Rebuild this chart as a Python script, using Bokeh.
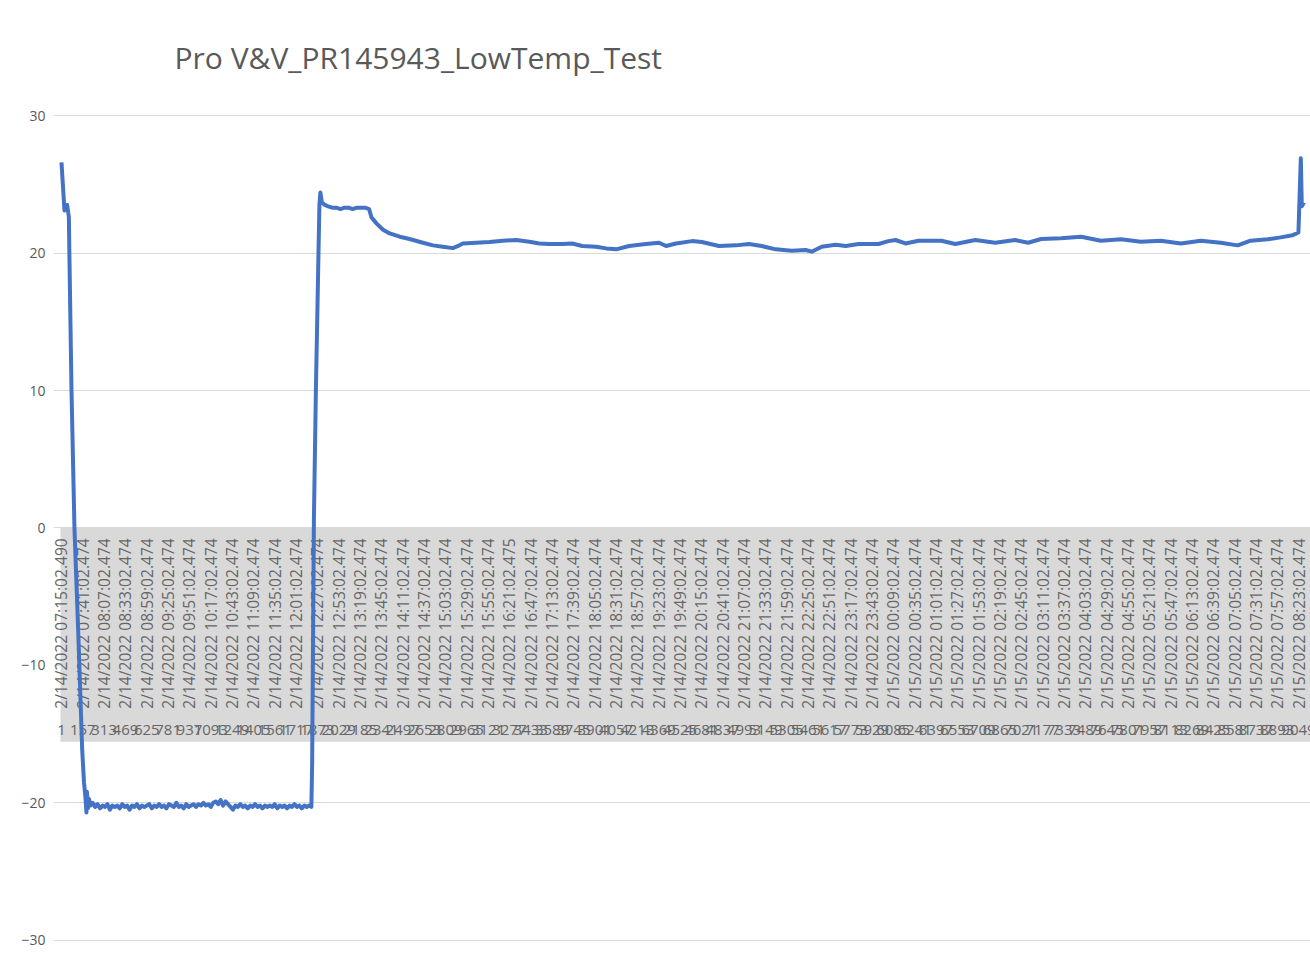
from datetime import datetime
from math import pi

from bokeh.plotting import figure
from bokeh.models import ColumnDataSource, BoxAnnotation, FixedTicker, Range1d
from bokeh.core.properties import value
from bokeh.embed import file_html
from bokeh.resources import INLINE

TITLE = "Pro V&V_PR145943_LowTemp_Test"

# category labels (time stamps) shown on the x axis
tick_labels = [
    "2/14/2022 07:15:02.490", "2/14/2022 07:41:02.474", "2/14/2022 08:07:02.474",
    "2/14/2022 08:33:02.474", "2/14/2022 08:59:02.474", "2/14/2022 09:25:02.474",
    "2/14/2022 09:51:02.474", "2/14/2022 10:17:02.474", "2/14/2022 10:43:02.474",
    "2/14/2022 11:09:02.474", "2/14/2022 11:35:02.474", "2/14/2022 12:01:02.474",
    "2/14/2022 12:27:02.474", "2/14/2022 12:53:02.474", "2/14/2022 13:19:02.474",
    "2/14/2022 13:45:02.474", "2/14/2022 14:11:02.474", "2/14/2022 14:37:02.474",
    "2/14/2022 15:03:02.474", "2/14/2022 15:29:02.474", "2/14/2022 15:55:02.474",
    "2/14/2022 16:21:02.475", "2/14/2022 16:47:02.474", "2/14/2022 17:13:02.474",
    "2/14/2022 17:39:02.474", "2/14/2022 18:05:02.474", "2/14/2022 18:31:02.474",
    "2/14/2022 18:57:02.474", "2/14/2022 19:23:02.474", "2/14/2022 19:49:02.474",
    "2/14/2022 20:15:02.474", "2/14/2022 20:41:02.474", "2/14/2022 21:07:02.474",
    "2/14/2022 21:33:02.474", "2/14/2022 21:59:02.474", "2/14/2022 22:25:02.474",
    "2/14/2022 22:51:02.474", "2/14/2022 23:17:02.474", "2/14/2022 23:43:02.474",
    "2/15/2022 00:09:02.474", "2/15/2022 00:35:02.474", "2/15/2022 01:01:02.474",
    "2/15/2022 01:27:02.474", "2/15/2022 01:53:02.474", "2/15/2022 02:19:02.474",
    "2/15/2022 02:45:02.474", "2/15/2022 03:11:02.474", "2/15/2022 03:37:02.474",
    "2/15/2022 04:03:02.474", "2/15/2022 04:29:02.474", "2/15/2022 04:55:02.474",
    "2/15/2022 05:21:02.474", "2/15/2022 05:47:02.474", "2/15/2022 06:13:02.474",
    "2/15/2022 06:39:02.474", "2/15/2022 07:05:02.474", "2/15/2022 07:31:02.474",
    "2/15/2022 07:57:02.474", "2/15/2022 08:23:02.474",
]

# second-level category labels (sample numbers, overlapping in the original)
index_labels = [
    "1", "157", "313", "469", "625", "781", "937", "1093", "1249", "1405",
    "1561", "1717", "1873", "2029", "2185", "2341", "2497", "2653", "2809", "2965",
    "3121", "3277", "3433", "3589", "3745", "3901", "4057", "4213", "4369", "4525",
    "4681", "4837", "4993", "5149", "5305", "5461", "5617", "5773", "5929", "6085",
    "6241", "6397", "6553", "6709", "6865", "7021", "7177", "7333", "7489", "7645",
    "7801", "7957", "8113", "8269", "8425", "8581", "8737", "8893", "9049",
]

# temperature readings (minutes since first sample, deg C)
start_min = [0, 3.6, 5.5, 6.9, 9.0, 9.6, 12.2, 15.8, 20.3, 25.2, 27.4, 29.2,
             30.4, 31.0, 32.2, 33.4, 35.3]
start_temp = [26.6, 23.1, 23.3, 23.5, 22.6, 20.0, 10.0, 0.0, -7.4, -16.1, -18.5,
              -19.6, -20.7, -19.2, -20.4, -19.7, -20.2]

cold_min = [38, 41, 44, 47, 50, 53, 56, 59, 62, 65, 68, 71, 74, 77, 80, 83, 86, 89,
            92, 95, 98, 101, 104, 107, 110, 113, 116, 119, 122, 125, 128, 131, 134,
            137, 140, 143, 146, 149, 152, 155, 158, 161, 164, 167, 170, 173, 176,
            179, 182, 185, 188, 191, 194, 197, 200, 203, 206, 209, 212, 215, 218,
            221, 224, 227, 230, 233, 236, 239, 242, 245, 248, 251, 254, 257, 260,
            263, 266, 269, 272, 275, 278, 281, 284, 287, 290, 293, 296, 299, 302]
cold_temp = [-20.0, -20.3, -20.1, -20.4, -20.2, -20.3, -20.1, -20.5, -20.2, -20.3,
             -20.2, -20.4, -20.1, -20.3, -20.2, -20.5, -20.2, -20.3, -20.1, -20.4,
             -20.2, -20.3, -20.2, -20.1, -20.4, -20.2, -20.3, -20.1, -20.3, -20.2,
             -20.4, -20.1, -20.2, -20.3, -20.0, -20.3, -20.2, -20.4, -20.1, -20.3,
             -20.2, -20.1, -20.3, -20.1, -20.2, -20.0, -20.2, -20.1, -20.3, -20.0,
             -19.9, -20.1, -19.8, -20.2, -19.9, -20.1, -20.3, -20.5, -20.2, -20.3,
             -20.1, -20.3, -20.2, -20.4, -20.2, -20.3, -20.1, -20.3, -20.2, -20.4,
             -20.2, -20.3, -20.2, -20.3, -20.1, -20.4, -20.2, -20.3, -20.2, -20.4,
             -20.2, -20.3, -20.1, -20.3, -20.2, -20.4, -20.2, -20.3, -20.2]

rise_min = [304.6, 305.6, 307.7, 310.1, 312.9, 314.4, 315.6, 317.4, 321.0]
rise_temp = [-20.3, -17.0, 0.6, 10.0, 18.8, 23.5, 24.4, 23.7, 23.5]

plateau_min = [325, 330, 335, 340, 345, 350, 355, 360, 365, 370, 375]
plateau_temp = [23.4, 23.3, 23.3, 23.2, 23.3, 23.3, 23.2, 23.3, 23.3, 23.3, 23.2]

warm_min = [377.8, 383.9, 392.0, 400.1, 412.3, 424.4, 440.6, 452.8, 464.9, 477.1,
            482.8, 489.2, 505.5, 521.7, 537.9, 554.2, 570.4, 582.5, 594.7, 610.5,
            622.6, 634.8, 651.8, 664.0, 676.2, 692.0, 712.6, 728.5, 737.0, 749.1,
            768.6, 780.7, 801.4, 822.1, 837.9, 853.7, 870.7, 890.2, 907.2, 914.5,
            926.7, 943.7, 955.9, 971.7, 996.0, 1008.1, 1016.7, 1028.8, 1044.6, 1072.6,
            1089.6, 1113.9, 1138.3, 1162.6, 1178.4, 1194.2, 1218.5, 1242.9, 1267.2, 1291.5,
            1315.8, 1340.1, 1364.5, 1388.8, 1413.1, 1433.8, 1449.6, 1470.3, 1486.1, 1500.7,
            1504.3]
warm_temp = [22.6, 22.16, 21.7, 21.43, 21.19, 21.02, 20.75, 20.56, 20.46, 20.36,
             20.5, 20.7, 20.75, 20.8, 20.9, 20.95, 20.82, 20.7, 20.66, 20.66,
             20.70, 20.51, 20.46, 20.34, 20.27, 20.51, 20.66, 20.75, 20.51, 20.70,
             20.87, 20.80, 20.51, 20.56, 20.66, 20.51, 20.27, 20.17, 20.22, 20.10,
             20.46, 20.61, 20.51, 20.66, 20.66, 20.87, 20.95, 20.70, 20.90, 20.90,
             20.66, 20.95, 20.75, 20.95, 20.75, 21.02, 21.07, 21.19, 20.90, 21.00,
             20.83, 20.90, 20.70, 20.90, 20.75, 20.56, 20.90, 21.00, 21.14, 21.30,
             21.40]

end_min = [1507.9, 1510.8, 1512.0, 1514.7]
end_temp = [21.5, 26.9, 23.4, 23.7]

minutes = start_min + cold_min + rise_min + plateau_min + warm_min + end_min
temps = start_temp + cold_temp + rise_temp + plateau_temp + warm_temp + end_temp

y_ticks = [-30, -20, -10, 0, 10, 20, 30]

# ---- derived tick positions from the time-stamp labels ----
fmt = "%m/%d/%Y %H:%M:%S.%f"
t0 = datetime.strptime(tick_labels[0], fmt)
tick_pos = [(datetime.strptime(s, fmt) - t0).total_seconds() / 60.0 for s in tick_labels]

FONT = "Open Sans"
GRAY_TXT = "#595959"

p = figure(
    width=1310, height=958,
    output_backend="svg", toolbar_location=None,
    x_range=Range1d(-9.75, 1522.6), y_range=Range1d(-30.6, 30.3),
    min_border_left=53, min_border_right=0, min_border_top=111, min_border_bottom=10,
    title=TITLE,
)
p.outline_line_color = None
p.background_fill_color = "white"
p.border_fill_color = "white"
p.xaxis.visible = False
p.xgrid.visible = False
p.ygrid.grid_line_color = "#d9d9d9"
p.ygrid.grid_line_width = 1

p.title.text_font = FONT
p.title.text_font_size = "30px"
p.title.text_font_style = "normal"
p.title.text_color = GRAY_TXT
p.title.align = "left"
p.title.offset = 121
p.title.standoff = 67

yax = p.yaxis[0]
yax.ticker = FixedTicker(ticks=y_ticks)
yax.axis_line_color = None
yax.major_tick_line_color = None
yax.minor_tick_line_color = None
yax.major_tick_out = 0
yax.major_tick_in = 0
yax.major_label_standoff = 8
yax.major_label_text_font = FONT
yax.major_label_text_font_size = "14px"
yax.major_label_text_color = GRAY_TXT

# gray band behind category labels
p.add_layout(BoxAnnotation(left=-1.2, top=0, bottom=-15.55, fill_color="#d9d9d9",
                           fill_alpha=1.0, line_color=None, level="underlay"))

lab_src = ColumnDataSource(dict(x=tick_pos, y=[-0.75] * len(tick_pos), text=tick_labels))
p.text(x="x", y="y", text="text", source=lab_src, angle=pi / 2,
       text_align="right", text_baseline="middle",
       text_font=value(FONT), text_font_size="15.6px", text_color="#666666")

idx_src = ColumnDataSource(dict(x=tick_pos, y=[-14.7] * len(tick_pos), text=index_labels))
p.text(x="x", y="y", text="text", source=idx_src,
       text_align="center", text_baseline="middle",
       text_font=value(FONT), text_font_size="15px", text_color="#666666")

src = ColumnDataSource(dict(x=minutes, y=temps))
p.line(x="x", y="y", source=src, line_color="#4472C4", line_width=4,
       line_join="round")

open("out.html", "w").write(file_html(p, INLINE))
